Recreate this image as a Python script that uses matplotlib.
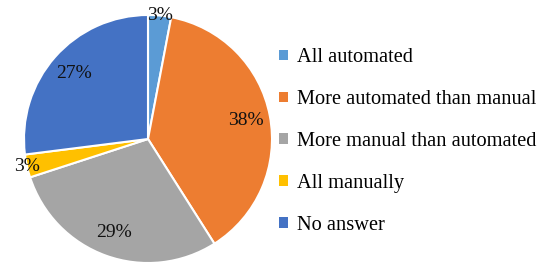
import numpy as np
import matplotlib
matplotlib.use('Agg')
import matplotlib.pyplot as plt
from matplotlib.patches import Patch

# survey answers
labels = ['All automated', 'More automated than manual', 'More manual than automated',
          'All manually', 'No answer']
shares = [3, 38, 29, 3, 27]
colors = ['#5B9BD5', '#ED7D31', '#A5A5A5', '#FFC000', '#4472C4']

plt.rcParams['font.family'] = ['Liberation Serif', 'DejaVu Serif']

fig = plt.figure(figsize=(5.44, 2.67), dpi=100)
# pie centred at about (148, 139) px, radius ~124 px
ax = fig.add_axes([(148 - 124) / 544, (267 - 139 - 124) / 267, 248 / 544, 248 / 267])

wedges, _ = ax.pie(shares, colors=colors, startangle=90, counterclock=False,
                   wedgeprops=dict(edgecolor='white', linewidth=1.5))

# percentage labels; small slices sit on the rim
for w, v in zip(wedges, shares):
    ang = np.deg2rad((w.theta1 + w.theta2) / 2)
    r = 1.0 if v < 5 else 0.8
    ax.text(r * np.cos(ang), r * np.sin(ang), f'{v}%', ha='center', va='center',
            fontsize=14, color='#111111')

ax.set_xlim(-1.0, 1.0)
ax.set_ylim(-1.0, 1.0)
ax.set_aspect('equal')

handles = [Patch(facecolor=c, edgecolor='none') for c in colors]
fig.legend(handles, labels, loc='center left', bbox_to_anchor=(271 / 544, 0.47),
           frameon=False, fontsize=14.7, handlelength=0.42, handleheight=0.42,
           handletextpad=0.45, labelspacing=1.12, borderaxespad=0)

fig.savefig('out.png', dpi=100)
